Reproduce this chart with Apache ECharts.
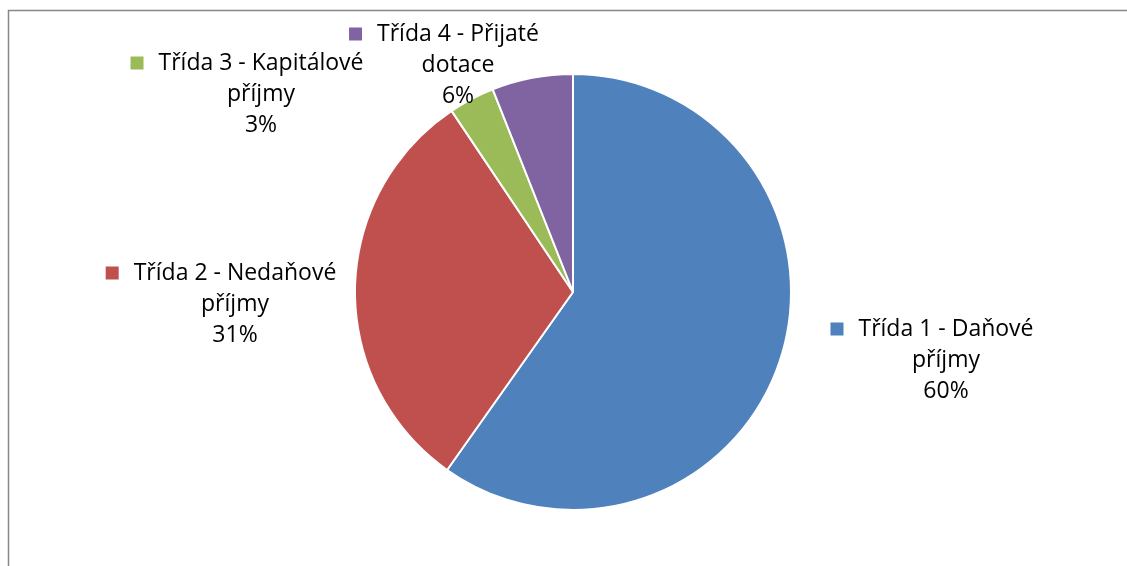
<!DOCTYPE html>
<html><head><meta charset="utf-8">
<script src="https://cdn.jsdelivr.net/npm/echarts@6/dist/echarts.min.js"></script>
<style>html,body{margin:0;padding:0;background:#fff}#c{width:1127px;height:566px}</style>
</head><body><div id="c"></div>
<script>
const categories = ['Třída 1 - Daňové', 'Třída 2 - Nedaňové', 'Třída 3 - Kapitálové', 'Třída 4 - Přijaté'];
const secondLines = ['příjmy', 'příjmy', 'příjmy', 'dotace'];
const values = [59.8, 30.8, 3.4, 6.0];
const percentLabels = ['60%', '31%', '3%', '6%'];
const colors = ['#4F81BD', '#C0504D', '#9BBB59', '#8064A2'];

const labelPos = [[946, 360], [235, 304], [261, 94], [458, 65]];

const chart = echarts.init(document.getElementById('c'), null, {renderer: 'canvas'});
const font = 'Open Sans';
const rich = {
  t: {fontFamily: font, fontSize: 23, color: '#000', lineHeight: 31},
  g: {width: 15, height: 13},
  sp: {width: 28, height: 13}
};
colors.forEach((c, i) => { rich['sq' + i] = {width: 13, height: 13, backgroundColor: c}; });

chart.setOption({
  animation: false,
  graphic: [
    {type: 'line', shape: {x1: 8, y1: 10.5, x2: 1127, y2: 10.5}, style: {stroke: '#878787', lineWidth: 1.5}},
    {type: 'line', shape: {x1: 8.5, y1: 10, x2: 8.5, y2: 566}, style: {stroke: '#878787', lineWidth: 1.5}}
  ],
  series: [{
    type: 'pie',
    center: [573, 292],
    radius: [0, 218],
    startAngle: 90,
    clockwise: true,
    data: categories.map((n, i) => ({name: n, value: values[i], itemStyle: {color: colors[i]}})),
    itemStyle: {borderColor: '#fff', borderWidth: 2},
    label: {
      show: true,
      position: 'outside',
      align: 'center',
      fontFamily: font,
      fontSize: 23,
      color: '#000',
      formatter: p => '{sq' + p.dataIndex + '|}{g|}{t|' + p.name + '}{sp|}\n{t|' + secondLines[p.dataIndex] + '}\n{t|' + percentLabels[p.dataIndex] + '}',
      rich: rich,
      lineHeight: 31
    },
    labelLine: {show: false},
    labelLayout: p => ({x: labelPos[p.dataIndex][0], y: labelPos[p.dataIndex][1], align: 'center', verticalAlign: 'middle'}),
    emphasis: {disabled: true}
  }]
});
</script></body></html>
